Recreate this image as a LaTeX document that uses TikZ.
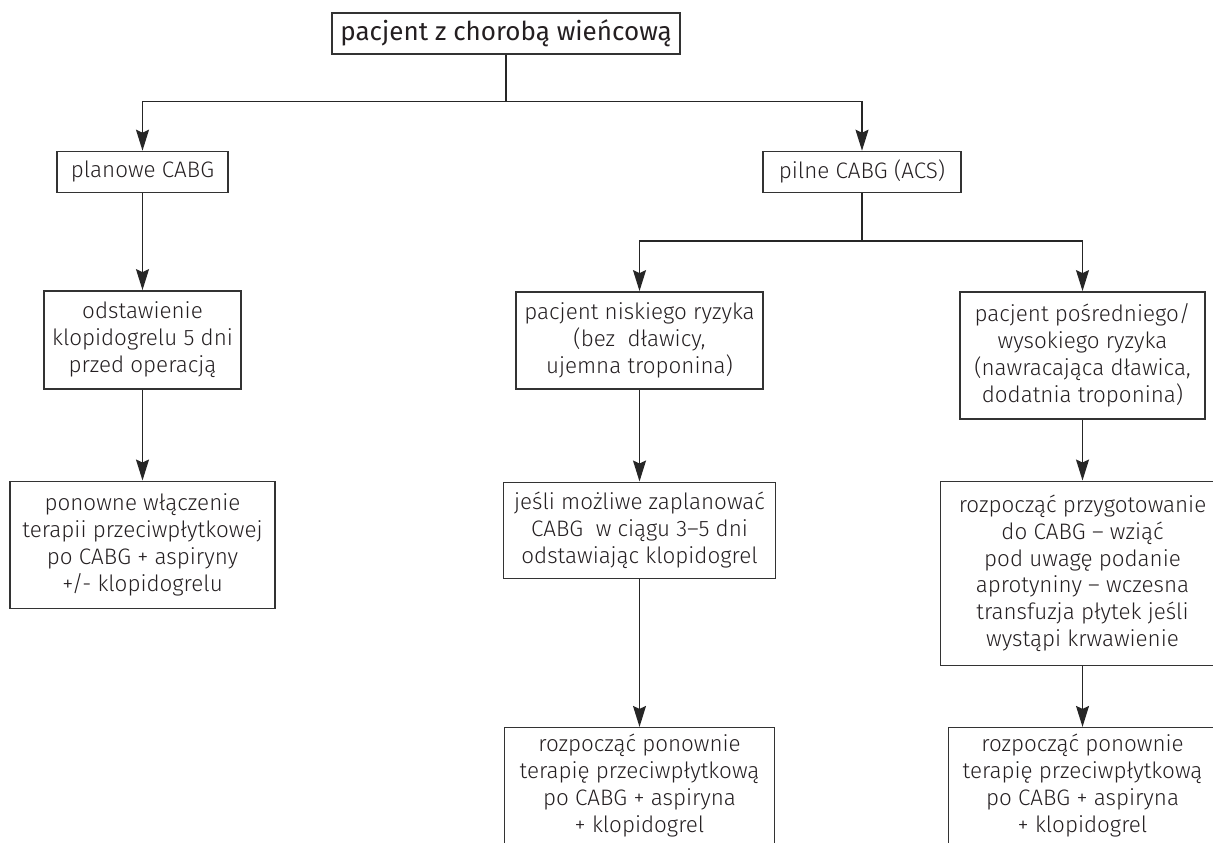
\documentclass[tikz,border=0pt]{standalone}
\usepackage{fontspec}
\setmainfont{Fira Sans Light}
\newfontfamily\titlefont{Fira Sans}
\usetikzlibrary{arrows.meta,positioning}
\definecolor{ink}{rgb}{.14,.12,.13}

\begin{document}
\begin{tikzpicture}[>={Stealth[length=10.5pt,width=6.5pt,inset=1.5pt]}, line width=.7pt,
	   font=\fontsize{11.2}{13.4}\selectfont, text=ink, node distance=48pt,
	   b/.style={draw=black!80, inner sep=0pt, align=center, minimum height=20.5pt}]
	  \useasboundingbox (0,0) rectangle (606.5pt,-421pt);
	  \node[b, minimum width=174pt, font=\titlefont\fontsize{13}{15}\selectfont] (pac) at (253pt,-16.75pt) {pacjent z chorobą wieńcową};
	  \node[b, minimum width=85.5pt, below=48pt of pac, xshift=-181.75pt] (plan) {planowe CABG};
	  \node[b, minimum width=99pt, below=48pt of pac, xshift=178pt] (pilne) {pilne CABG (ACS)};
	  \node[b, minimum width=98.5pt, minimum height=49pt, below=48.5pt of plan] (odst) {odstawienie\\ klopidogrelu 5 dni\\ przed operacją};
	  \node[b, minimum width=132.5pt, minimum height=63.5pt, below=45.5pt of odst] (pon) {ponowne włączenie\\ terapii przeciwpłytkowej\\ po CABG + aspiryny\\ +/- klopidogrelu};
	  \node[b, minimum width=123.5pt, minimum height=48.5pt, below=49pt of pilne, xshift=-111.25pt] (nisk) {pacjent niskiego ryzyka\\ (bez\ \ dławicy,\\ ujemna troponina)};
	  \node[b, minimum width=122.5pt, minimum height=63.5pt, below=49pt of pilne, xshift=110.25pt] (posr) {pacjent pośredniego/\\ wysokiego ryzyka\\ (nawracająca dławica,\\ dodatnia troponina)};
	  \node[b, minimum width=136pt, minimum height=48pt, below=46pt of nisk] (jesli) {jeśli możliwe zaplanować\\ CABG\ \ w ciągu 3–5 dni\\ odstawiając klopidogrel};
	  \node[b, minimum width=142pt, minimum height=92pt, below=30.5pt of posr] (przyg) {rozpocząć przygotowanie\\ do CABG – wziąć\\ pod uwagę podanie\\ aprotyniny – wczesna\\ transfuzja płytek jeśli\\ wystąpi krwawienie};
	  \node[b, minimum width=135pt, minimum height=58pt, below=74pt of jesli] (roz1) {rozpocząć ponownie\\ terapię przeciwpłytkową\\ po CABG + aspiryna\\ + klopidogrel};
	  \node[b, minimum width=134pt, minimum height=58pt, below=30.5pt of przyg] (roz2) {rozpocząć ponownie\\ terapię przeciwpłytkową\\ po CABG + aspiryna\\ + klopidogrel};
	  \draw[->, black!85] (pac.south) -- ++(0,-23.5pt) -| (plan.north);
	  \draw[->, black!85] (pac.south) -- ++(0,-23.5pt) -| (pilne.north);
	  \draw[->, black!85] (pilne.south) -- ++(0,-24pt) -| (nisk.north);
	  \draw[->, black!85] (pilne.south) -- ++(0,-24pt) -| (posr.north);
	  \draw[->, black!85] (plan) -- (odst); \draw[->, black!85] (odst) -- (pon);
	  \draw[->, black!85] (nisk) -- (jesli); \draw[->, black!85] (jesli) -- (roz1);
	  \draw[->, black!85] (posr) -- (przyg); \draw[->, black!85] (przyg) -- (roz2);
	\end{tikzpicture}
\end{document}
